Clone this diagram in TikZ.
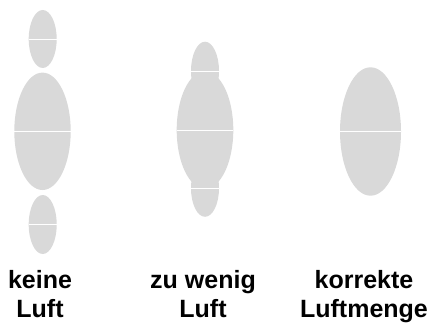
\documentclass[tikz,border=0pt]{standalone}
\usepackage{fontspec}
\setmainfont{Liberation Sans}
\begin{document}
\begin{tikzpicture}[x=1pt,y=-1pt,
  blob/.style={fill=blobgray,draw=none},
  midline/.style={draw=white,line width=0.9pt},
  lbl/.style={font=\bfseries\fontsize{25}{28.5}\selectfont,align=center,anchor=base,inner sep=0pt}]
\definecolor{blobgray}{HTML}{D9D9D9}
\useasboundingbox (0,0) rectangle (435,323);
% left: keine Luft
\fill[blob] (42.7,39) ellipse [x radius=14,y radius=29];
\draw[midline] (28.7,39.3) -- (56.7,39.3);
\fill[blob] (42.5,131.3) ellipse [x radius=28.2,y radius=58.7];
\draw[midline] (14.3,131.7) -- (70.7,131.7);
\fill[blob] (42.7,224.5) ellipse [x radius=14,y radius=29.5];
\draw[midline] (28.7,224.3) -- (56.7,224.3);
% middle: zu wenig Luft
\fill[blob] (205,130) ellipse [x radius=28.3,y radius=58.7];
\fill[blob] (205,71) ellipse [x radius=14,y radius=29.3];
\fill[blob] (205,188.3) ellipse [x radius=14,y radius=28.5];
\draw[midline] (176.7,130) -- (233.3,130);
\draw[midline] (191,71) -- (219,71);
\draw[midline] (191,188.3) -- (219,188.3);
% right: korrekte Luftmenge
\fill[blob] (370.5,131.5) ellipse [x radius=30.5,y radius=64.2];
\draw[midline] (340,131.7) -- (401,131.7);
% labels
\node[lbl] (l1) at (40,317) {keine\\Luft};
\node[lbl] (l2) at (203,317) {zu wenig\\Luft};
\node[lbl] (l3) at (364,317) {korrekte\\Luftmenge};
\end{tikzpicture}
\end{document}
